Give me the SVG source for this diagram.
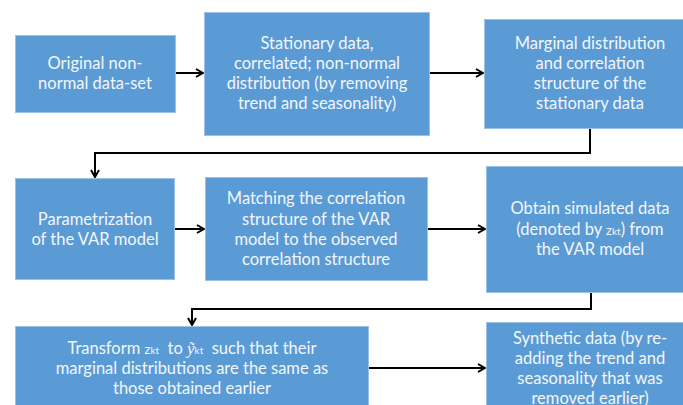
<svg xmlns="http://www.w3.org/2000/svg" width="683" height="405" viewBox="0 0 683 405">
<defs>
<style>
.box{fill:#5b9bd5;stroke:#9cc0e6;stroke-width:1}
.t{font-family:Lato,"Open Sans","Liberation Sans",sans-serif;font-size:16.5px;fill:#f2f6fb;text-anchor:middle}
.s{font-size:13px}
.k{font-size:10px}
.m{font-family:"Liberation Serif",serif;font-style:italic;font-size:17px}
.c{fill:none;stroke:#000;stroke-width:2}
</style>
<marker id="a" viewBox="0 0 10 10" refX="9" refY="5" markerWidth="10" markerHeight="10" markerUnits="userSpaceOnUse" orient="auto">
<path d="M2,1 L9,5 L2,9" fill="none" stroke="#000" stroke-width="2"/>
</marker>
</defs>
<rect width="683" height="405" fill="#fff"/>
<g id="n1"><rect class="box" x="15.5" y="35.5" width="160" height="77"/>
<text class="t" x="95" y="69">Original non-</text><text class="t" x="95" y="89">normal data-set</text></g>
<g id="n2"><rect class="box" x="204.5" y="12.5" width="225" height="123"/>
<text class="t" x="317" y="49">Stationary data,</text><text class="t" x="317" y="69">correlated; non-normal</text><text class="t" x="317" y="89">distribution (by removing</text><text class="t" x="317" y="109">trend and seasonality)</text></g>
<g id="n3"><rect class="box" x="484.5" y="19.5" width="200" height="109"/>
<text class="t" x="590" y="49">Marginal distribution</text><text class="t" x="590" y="69">and correlation</text><text class="t" x="590" y="89">structure of the</text><text class="t" x="590" y="109">stationary data</text></g>
<g id="n4"><rect class="box" x="15.5" y="178.5" width="159" height="101"/>
<text class="t" x="95" y="225">Parametrization</text><text class="t" x="95" y="245">of the VAR model</text></g>
<g id="n5"><rect class="box" x="205.5" y="177.5" width="222" height="103"/>
<text class="t" x="316" y="204">Matching the correlation</text><text class="t" x="316" y="225">structure of the VAR</text><text class="t" x="316" y="245">model to the observed</text><text class="t" x="316" y="265">correlation structure</text></g>
<g id="n6"><rect class="box" x="486.5" y="166.5" width="198" height="126"/>
<text class="t" x="590" y="214">Obtain simulated data</text><text class="t" x="590" y="235">(denoted by <tspan class="s">z</tspan><tspan class="k">kt</tspan>) from</text><text class="t" x="590" y="255">the VAR model</text></g>
<g id="n7"><rect class="box" x="15.5" y="326.5" width="353" height="80"/>
<text class="t" x="192" y="354" xml:space="preserve">Transform <tspan class="s">z</tspan><tspan class="k">kt</tspan>  to <tspan class="m">ỹ</tspan><tspan class="k">kt</tspan>  such that their</text><text class="t" x="192" y="374">marginal distributions are the same as</text><text class="t" x="192" y="394">those obtained earlier</text></g>
<g id="n8"><rect class="box" x="486.5" y="322.5" width="198" height="84"/>
<text class="t" x="590" y="344">Synthetic data (by re-</text><text class="t" x="590" y="364">adding the trend and</text><text class="t" x="590" y="384">seasonality that was</text><text class="t" x="590" y="404">removed earlier)</text></g>
<g id="connectors">
<path class="c" d="M176,73 H203" marker-end="url(#a)"/>
<path class="c" d="M430,73 H483" marker-end="url(#a)"/>
<path class="c" d="M590,129 V153 H95 V177" marker-end="url(#a)"/>
<path class="c" d="M175,229 H204" marker-end="url(#a)"/>
<path class="c" d="M428,229 H485" marker-end="url(#a)"/>
<path class="c" d="M591,293 V309 H192 V325" marker-end="url(#a)"/>
<path class="c" d="M369,368 H485" marker-end="url(#a)"/>
</g>
</svg>
